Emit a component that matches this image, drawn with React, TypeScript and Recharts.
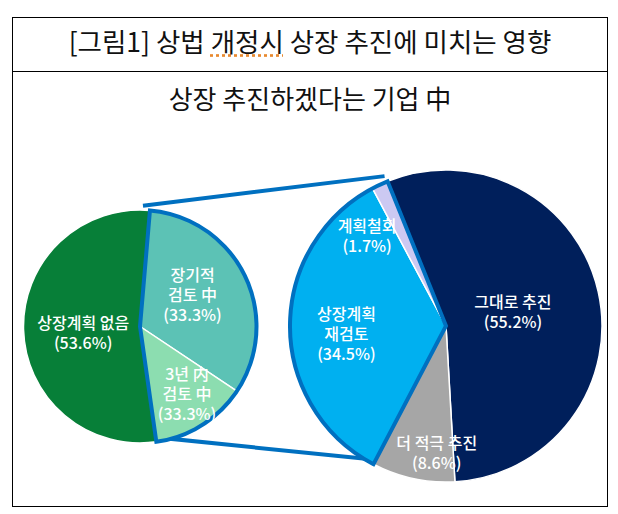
import React from 'react';
import { PieChart, Pie, Cell, Customized } from 'recharts';

// ---- data ----
const leftCategories = ['장기적 검토 中', '3년 内 검토 中', '상장계획 없음'];
const leftValues = [33.0, 13.4, 53.6];
const leftLabelLines = [['장기적', '검토 中'], ['3년 内', '검토 中'], ['상장계획 없음']];
const leftPctLabels = ['(33.3%)', '(33.3%)', '(53.6%)'];

const rightCategories = ['그대로 추진', '더 적극 추진', '상장계획 재검토', '계획철회'];
const rightValues = [55.2, 8.6, 34.5, 1.7];
const rightLabelLines = [['그대로 추진'], ['더 적극 추진'], ['상장계획', '재검토'], ['계획철회']];
const rightPctLabels = ['(55.2%)', '(8.6%)', '(34.5%)', '(1.7%)'];

const titleText = ['[그림1] 상법 ', '개정시', ' 상장 추진에 미치는 영향'];
const subtitleText = '상장 추진하겠다는 기업 中';

// highlighted (exploded) groups
const leftHighlight = [0, 1];
const rightHighlight = [2, 3];

// ---- styles / layout ----
const W = 618;
const H = 514;
const FONT = '"Noto Sans CJK KR", "Noto Sans", sans-serif';
const leftColors = ['#5CC2B5', '#8CDDB0', '#077F38'];
const rightColors = ['#001F5B', '#A6A6A6', '#00B0F0', '#CCC9F2'];
const OUTLINE = '#0070C0';

const L = { cx: 135, cy: 321.5, r: 116.5, start: 85.1 };
const R = { cx: 441, cy: 321, r: 156, start: 112 };

// label placement: [radius fraction, angle nudge (deg)]
const leftLabelPos = [[0.53, 6], [0.7, 3], [0.49, 4]];
const rightLabelPos = [[0.44, 0], [0.81, 8], [0.64, 4], [0.77, 16]];

const RAD = Math.PI / 180;
const LINE_H = 20;

function makeLabel(lines: string[][], pcts: string[], pos: number[][]) {
  return (props: any) => {
    const { cx, cy, midAngle, outerRadius, index } = props;
    const [f, nudge] = pos[index];
    const a = (midAngle + nudge) * RAD;
    const x = cx + outerRadius * f * Math.cos(a);
    const y = cy - outerRadius * f * Math.sin(a);
    const all = [...lines[index], pcts[index]];
    const top = y - ((all.length - 1) * LINE_H) / 2;
    return (
      <text
        key={'lbl' + index}
        x={x}
        y={top}
        fill="#FFFFFF"
        fontSize={16}
        fontFamily={FONT}
        fontWeight={500}
        textAnchor="middle"
        dominantBaseline="central"
      >
        {all.map((t, i) => (
          <tspan key={i} x={x} y={top + i * LINE_H}>
            {t}
          </tspan>
        ))}
      </text>
    );
  };
}

const sum = (arr: number[]) => arr.reduce((s, v) => s + v, 0);

const leftData = leftCategories.map((name, i) => ({ name, value: leftValues[i] }));
const rightData = rightCategories.map((name, i) => ({ name, value: rightValues[i] }));

// outline groups built from the data arrays
const leftTotal = sum(leftValues);
const leftHi = sum(leftHighlight.map((i) => leftValues[i]));
const leftOutlineData = [
  { name: 'hi', value: leftHi },
  { name: 'rest', value: leftTotal - leftHi },
];
const rightTotal = sum(rightValues);
const rightHi = sum(rightHighlight.map((i) => rightValues[i]));
const rightOutlineData = [
  { name: 'rest', value: rightTotal - rightHi },
  { name: 'hi', value: rightHi },
];

function polar(c: { cx: number; cy: number; r: number }, deg: number) {
  return [c.cx + c.r * Math.cos(deg * RAD), c.cy - c.r * Math.sin(deg * RAD)];
}

const Connectors = () => {
  const lTop = polar(L, L.start);
  const lBot = polar(L, L.start - (360 * leftHi) / leftTotal);
  const rTop = polar(R, R.start);
  const rBot = polar(R, R.start - (360 * (rightTotal - rightHi)) / rightTotal);
  return (
    <g>
      <line x1={lTop[0]} y1={lTop[1]} x2={rTop[0]} y2={rTop[1]} stroke={OUTLINE} strokeWidth={4} strokeLinecap="square" />
      <line x1={lBot[0]} y1={lBot[1]} x2={rBot[0]} y2={rBot[1]} stroke={OUTLINE} strokeWidth={4} strokeLinecap="square" />
    </g>
  );
};

export default function App() {
  return (
    <div style={{ position: 'fixed', left: 0, top: 0, width: W, height: H, background: '#fff', fontFamily: FONT }}>
      {/* frame */}
      <div
        style={{
          position: 'absolute',
          left: 12,
          top: 17,
          width: 596,
          height: 490,
          border: '1px solid #000',
          boxSizing: 'border-box',
        }}
      />
      <div style={{ position: 'absolute', left: 12, top: 71, width: 596, height: 1, background: '#000' }} />
      {/* title */}
      <div
        style={{
          position: 'absolute',
          left: 12,
          top: 24,
          width: 596,
          height: 34,
          lineHeight: '34px',
          textAlign: 'center',
          fontSize: 26.5,
          color: '#111',
          whiteSpace: 'nowrap',
        }}
      >
        {titleText[0]}
        <span style={{ textDecoration: 'underline dotted #E8892E', textUnderlineOffset: 2 }}>{titleText[1]}</span>
        {titleText[2]}
      </div>
      <div
        style={{
          position: 'absolute',
          left: 12,
          top: 81,
          width: 596,
          height: 34,
          lineHeight: '34px',
          textAlign: 'center',
          fontSize: 26,
          color: '#111',
          whiteSpace: 'nowrap',
        }}
      >
        {subtitleText}
      </div>
      <div style={{ position: 'absolute', left: 0, top: 0 }}>
        <PieChart width={W} height={H}>
          <Pie
            data={leftData}
            dataKey="value"
            cx={L.cx}
            cy={L.cy}
            outerRadius={L.r}
            startAngle={L.start}
            endAngle={L.start - 360}
            stroke="#FFFFFF"
            strokeWidth={1.5}
            isAnimationActive={false}
            labelLine={false}
            label={makeLabel(leftLabelLines, leftPctLabels, leftLabelPos)}
          >
            {leftData.map((d, i) => (
              <Cell key={d.name} fill={leftColors[i]} />
            ))}
          </Pie>
          <Pie
            data={rightData}
            dataKey="value"
            cx={R.cx}
            cy={R.cy}
            outerRadius={R.r}
            startAngle={R.start}
            endAngle={R.start - 360}
            stroke="#FFFFFF"
            strokeWidth={1.5}
            isAnimationActive={false}
            labelLine={false}
            label={makeLabel(rightLabelLines, rightPctLabels, rightLabelPos)}
          >
            {rightData.map((d, i) => (
              <Cell key={d.name} fill={rightColors[i]} />
            ))}
          </Pie>
          <Pie
            data={leftOutlineData}
            dataKey="value"
            cx={L.cx}
            cy={L.cy}
            outerRadius={L.r}
            startAngle={L.start}
            endAngle={L.start - 360}
            isAnimationActive={false}
            label={false}
            labelLine={false}
          >
            <Cell fill="none" stroke={OUTLINE} strokeWidth={4} strokeLinejoin="miter" />
            <Cell fill="none" stroke="none" />
          </Pie>
          <Pie
            data={rightOutlineData}
            dataKey="value"
            cx={R.cx}
            cy={R.cy}
            outerRadius={R.r}
            startAngle={R.start}
            endAngle={R.start - 360}
            isAnimationActive={false}
            label={false}
            labelLine={false}
          >
            <Cell fill="none" stroke="none" />
            <Cell fill="none" stroke={OUTLINE} strokeWidth={4} strokeLinejoin="miter" />
          </Pie>
          <Customized component={Connectors} />
        </PieChart>
      </div>
    </div>
  );
}
